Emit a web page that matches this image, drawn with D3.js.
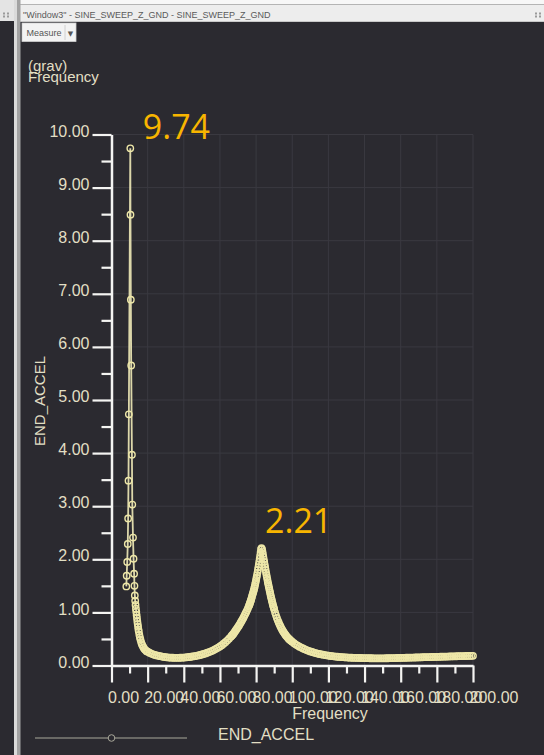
<!DOCTYPE html>
<html>
<head>
<meta charset="utf-8">
<script src="https://cdn.jsdelivr.net/npm/d3@7"></script>
<style>
  html, body { margin: 0; padding: 0; background: #2b2a30; }
  svg { display: block; }
</style>
</head>
<body>
<svg id="chart" width="544" height="755"></svg>
<script>
// Sine sweep response, END_ACCEL (grav) against Frequency (Hz)
const frequency = [
  8.2, 8.4, 8.7, 9.0, 9.2, 9.4, 9.6, 10.4, 10.5, 10.7, 10.9, 11.3, 11.5, 11.9, 12.2, 12.5, 12.7,
  12.9, 13.1, 13.3, 13.5, 13.7, 13.9, 14.1, 14.3, 14.5, 14.7, 14.9, 15.1, 15.4, 15.7, 16.0,
  16.4, 16.8, 17.2, 17.7, 18.2, 18.8, 19.4,
  20, 21, 22, 23, 24, 25, 26, 27, 28, 29, 30, 31, 32, 33, 34, 35, 36, 37, 38, 39, 40,
  41, 42, 43, 44, 45, 46, 47, 48, 49, 50, 51, 52, 53, 54, 55, 56, 57, 58, 59, 60,
  61, 62, 63, 64, 65, 66,
  66.5, 67, 67.5, 68, 68.5, 69, 69.5, 70, 70.5, 71, 71.5, 72, 72.5, 73, 73.5, 74, 74.5, 75, 75.5, 76,
  76.25, 76.5, 76.75, 77, 77.25, 77.5, 77.75, 78, 78.25, 78.5, 78.75, 79, 79.25, 79.5, 79.75, 80,
  80.25, 80.5, 80.75, 81, 81.25, 81.5, 81.75, 82, 82.25, 82.5, 82.75, 83, 83.25, 83.5, 83.75, 84,
  84.25, 84.5, 84.75, 85, 85.25, 85.5, 85.75, 86, 86.25, 86.5, 86.75, 87, 87.25, 87.5, 87.75, 88,
  88.25, 88.5, 88.75, 89, 89.25, 89.5, 89.75, 90,
  90.5, 91, 91.5, 92, 92.5, 93, 93.5, 94, 94.5, 95, 95.5, 96, 96.5, 97, 97.5, 98, 98.5, 99, 99.5, 100,
  101, 102, 103, 104, 105, 106, 107, 108, 109, 110, 111, 112, 113, 114, 115, 116, 117, 118, 119, 120,
  121, 122, 123, 124, 125, 126, 127, 128, 129, 130, 131, 132, 133, 134, 135, 136, 137, 138, 139, 140,
  141, 142, 143, 144, 145, 146, 147, 148, 149, 150, 151, 152, 153, 154, 155, 156, 157, 158, 159, 160,
  161, 162, 163, 164, 165, 166, 167, 168, 169, 170, 171, 172, 173, 174, 175, 176, 177, 178, 179, 180,
  181, 182, 183, 184, 185, 186, 187, 188, 189, 190, 191, 192, 193, 194, 195, 196, 197, 198, 199, 200
];

const endAccel = [
  1.49, 1.69, 1.95, 2.29, 2.77, 3.48, 4.73, 9.74, 8.49, 6.89, 5.65, 3.97, 3.03, 2.41, 2.01, 1.73, 1.50,
  1.32, 1.22, 1.14, 1.07, 1.01, 0.95, 0.89, 0.83, 0.78, 0.73, 0.68, 0.64, 0.58, 0.53, 0.49,
  0.44, 0.40, 0.37, 0.34, 0.31, 0.29, 0.27,
  0.26, 0.24, 0.225, 0.21, 0.20, 0.19, 0.182, 0.175, 0.168, 0.162, 0.157, 0.153, 0.15, 0.148, 0.146, 0.145, 0.145, 0.145, 0.146, 0.148, 0.15,
  0.153, 0.156, 0.16, 0.165, 0.17, 0.176, 0.183, 0.19, 0.198, 0.207, 0.217, 0.228, 0.24, 0.253, 0.267, 0.282, 0.30, 0.318, 0.338, 0.36,
  0.383, 0.41, 0.44, 0.47, 0.505, 0.54,
  0.56, 0.58, 0.60, 0.625, 0.65, 0.675, 0.70, 0.725, 0.75, 0.78, 0.81, 0.84, 0.87, 0.90, 0.935, 0.97, 1.005, 1.04, 1.08, 1.12,
  1.14, 1.165, 1.19, 1.215, 1.24, 1.27, 1.30, 1.33, 1.36, 1.39, 1.42, 1.455, 1.49, 1.53, 1.57, 1.61,
  1.655, 1.70, 1.75, 1.80, 1.85, 1.90, 1.955, 2.01, 2.07, 2.13, 2.19, 2.21, 2.19, 2.15, 2.10, 2.05,
  2.00, 1.95, 1.90, 1.85, 1.80, 1.75, 1.705, 1.66, 1.615, 1.57, 1.53, 1.49, 1.45, 1.41, 1.37, 1.33,
  1.29, 1.255, 1.22, 1.185, 1.15, 1.12, 1.09, 1.06,
  1.00, 0.945, 0.895, 0.85, 0.81, 0.77, 0.735, 0.70, 0.67, 0.64, 0.615, 0.59, 0.565, 0.545, 0.525, 0.505, 0.49, 0.475, 0.46, 0.445,
  0.42, 0.395, 0.375, 0.355, 0.337, 0.32, 0.305, 0.29, 0.277, 0.265, 0.254, 0.244, 0.234, 0.225, 0.217, 0.21, 0.203, 0.197, 0.191, 0.186,
  0.181, 0.176, 0.172, 0.168, 0.165, 0.162, 0.159, 0.156, 0.154, 0.152, 0.15, 0.148, 0.146, 0.145, 0.144, 0.143, 0.142, 0.141, 0.14, 0.139,
  0.138, 0.138, 0.137, 0.137, 0.136, 0.136, 0.136, 0.136, 0.136, 0.136, 0.136, 0.137, 0.137, 0.138, 0.138, 0.139, 0.14, 0.141, 0.142, 0.143,
  0.144, 0.145, 0.146, 0.147, 0.148, 0.149, 0.15, 0.151, 0.152, 0.153, 0.154, 0.155, 0.156, 0.157, 0.158, 0.159, 0.16, 0.161, 0.162, 0.163,
  0.164, 0.165, 0.166, 0.167, 0.168, 0.169, 0.17, 0.171, 0.172, 0.173, 0.174, 0.175, 0.176, 0.177, 0.178, 0.179, 0.18, 0.181, 0.182, 0.183
];

const xTicks = [0, 20, 40, 60, 80, 100, 120, 140, 160, 180, 200];
const xMinorTicks = [10, 30, 50, 70, 90, 110, 130, 150, 170, 190];
const yTicks = [0, 1, 2, 3, 4, 5, 6, 7, 8, 9, 10];
const yMinorTicks = [0.5, 1.5, 2.5, 3.5, 4.5, 5.5, 6.5, 7.5, 8.5, 9.5];

const windowTitle = '"Window3" - SINE_SWEEP_Z_GND - SINE_SWEEP_Z_GND';
const seriesName = "END_ACCEL";
const xTitle = "Frequency";
const unitLabel = "(grav)";

const points = frequency.map((f, i) => ({ f, v: endAccel[i] }));

const BG = "#2b2a30";
const TEXT = "#e2dfc4";
const AXIS = "#f4f4f2";
const CURVE = "#eee7a8";
const fmt = d3.format(".2f");

const svg = d3.select("#chart");

// ---- application frame ----
svg.append("rect").attr("width", 544).attr("height", 755).attr("fill", BG);
svg.append("rect").attr("x", 0).attr("y", 0).attr("width", 544).attr("height", 5).attr("fill", "#f7f7f7");
svg.append("rect").attr("x", 0).attr("y", 0).attr("width", 14).attr("height", 21).attr("fill", "#e4e4e4");
svg.append("rect").attr("x", 20).attr("y", 4).attr("width", 524).attr("height", 18).attr("fill", "#ededed");
svg.append("line").attr("x1", 20).attr("x2", 544).attr("y1", 4.5).attr("y2", 4.5).attr("stroke", "#b4b4b4");
svg.append("line").attr("x1", 20).attr("x2", 544).attr("y1", 21.5).attr("y2", 21.5).attr("stroke", "#c8c8c8");
svg.append("rect").attr("x", 14).attr("y", 0).attr("width", 3).attr("height", 755).attr("fill", "#dadada");
svg.append("rect").attr("x", 17).attr("y", 0).attr("width", 3.5).attr("height", 755).attr("fill", "#a2a2a2");

// grip icons
function grip(cx, cy) {
  [[-2, -1.5], [2, -1.5], [-2, 1.5], [2, 1.5]].forEach(([dx, dy]) => {
    svg.append("rect").attr("x", cx + dx - 1).attr("y", cy + dy - 1)
      .attr("width", 2).attr("height", 2).attr("fill", "#9a9a9a");
  });
}
grip(6, 15);
grip(538, 15);

svg.append("text").attr("x", 23).attr("y", 17.5)
  .attr("font-family", "Liberation Sans, Arial, sans-serif").attr("font-size", 9)
  .attr("fill", "#5a5a5a").text(windowTitle);

// Measure drop-down
svg.append("rect").attr("x", 22).attr("y", 23).attr("width", 54).attr("height", 18.5)
  .attr("fill", "#f3f3f3").attr("stroke", "#cfcfcf").attr("stroke-width", 0.8);
svg.append("line").attr("x1", 65).attr("x2", 65).attr("y1", 25).attr("y2", 40)
  .attr("stroke", "#d0d0d0");
svg.append("text").attr("x", 26.5).attr("y", 36)
  .attr("font-family", "Liberation Sans, Arial, sans-serif").attr("font-size", 9)
  .attr("fill", "#555").text("Measure");
svg.append("text").attr("x", 70.5).attr("y", 35.5).attr("text-anchor", "middle")
  .attr("font-family", "DejaVu Sans, sans-serif").attr("font-size", 7)
  .attr("fill", "#555").text("\u25BC");

// ---- plot ----
const x = d3.scaleLinear().domain([0, 200]).range([111.5, 473]);
const y = d3.scaleLinear().domain([0, 10]).range([665.5, 134.5]);

const plot = svg.append("g");

// faint grid
plot.append("g").selectAll("line").data(xTicks.slice(1)).join("line")
  .attr("x1", d => x(d)).attr("x2", d => x(d))
  .attr("y1", y(0)).attr("y2", y(10))
  .attr("stroke", "#3a3940").attr("stroke-width", 1);
plot.append("g").selectAll("line").data(yTicks.slice(1)).join("line")
  .attr("x1", x(0)).attr("x2", x(200))
  .attr("y1", d => y(d)).attr("y2", d => y(d))
  .attr("stroke", "#3a3940").attr("stroke-width", 1);

function styleAxis(g) {
  g.select(".domain").attr("stroke", AXIS).attr("stroke-width", 2.5);
  g.selectAll(".tick line").attr("stroke", AXIS).attr("stroke-width", 2.2);
  g.selectAll(".tick text").attr("fill", TEXT)
    .attr("font-family", "Liberation Sans, Arial, sans-serif").attr("font-size", 16);
}

// minor ticks
plot.append("g").attr("transform", `translate(${x(0)},0)`)
  .call(d3.axisLeft(y).tickValues(yMinorTicks).tickSize(10).tickSizeOuter(0).tickFormat(""))
  .call(styleAxis).call(g => g.select(".domain").remove());
plot.append("g").attr("transform", `translate(0,${y(0)})`)
  .call(d3.axisBottom(x).tickValues(xMinorTicks).tickSize(8).tickSizeOuter(0).tickFormat(""))
  .call(styleAxis).call(g => g.select(".domain").remove());

// major axes
plot.append("g").attr("transform", `translate(${x(0)},0)`)
  .call(d3.axisLeft(y).tickValues(yTicks).tickSize(19).tickSizeOuter(0).tickPadding(3).tickFormat(fmt))
  .call(styleAxis)
  .call(g => g.selectAll(".tick text").attr("dy", "0.1em"));

plot.append("g").attr("transform", `translate(0,${y(0)})`)
  .call(d3.axisBottom(x).tickValues(xTicks).tickSize(17).tickSizeOuter(0).tickPadding(9).tickFormat(fmt))
  .call(styleAxis)
  .call(g => g.selectAll(".tick text").attr("text-anchor", "start").attr("x", -4));

// axis titles
svg.append("text").attr("x", 330).attr("y", 719).attr("text-anchor", "middle")
  .attr("font-family", "Liberation Sans, Arial, sans-serif").attr("font-size", 16)
  .attr("fill", TEXT).text(xTitle);
svg.append("text").attr("transform", "translate(45,401) rotate(-90)").attr("text-anchor", "middle")
  .attr("font-family", "Liberation Sans, Arial, sans-serif").attr("font-size", 15)
  .attr("fill", TEXT).text(seriesName);
svg.append("text").attr("x", 28).attr("y", 70.5)
  .attr("font-family", "Liberation Sans, Arial, sans-serif").attr("font-size", 15)
  .attr("fill", TEXT).text(unitLabel);
svg.append("text").attr("x", 28).attr("y", 81.5)
  .attr("font-family", "Liberation Sans, Arial, sans-serif").attr("font-size", 15)
  .attr("fill", TEXT).text(xTitle);

// curve: connecting line plus a ring at every sample
const line = d3.line().x(d => x(d.f)).y(d => y(d.v));
plot.append("path").datum(points).attr("d", line)
  .attr("fill", "none").attr("stroke", "#dcd7aa").attr("stroke-width", 1.8);
plot.append("g").selectAll("circle").data(points).join("circle")
  .attr("cx", d => x(d.f)).attr("cy", d => y(d.v)).attr("r", 3.2)
  .attr("fill", "none").attr("stroke", CURVE).attr("stroke-width", 1.4);

// peak annotations
const lowBand = points.filter(d => d.f < 40);
const highBand = points.filter(d => d.f >= 40);
const peaks = [
  { p: lowBand[d3.maxIndex(lowBand, d => d.v)], dx: 12.5, dy: -9 },
  { p: highBand[d3.maxIndex(highBand, d => d.v)], dx: 3.5, dy: -15 }
];
svg.append("g").selectAll("text").data(peaks).join("text")
  .attr("x", d => x(d.p.f) + d.dx).attr("y", d => y(d.p.v) + d.dy)
  .attr("font-family", "Open Sans, Noto Sans, sans-serif").attr("font-size", 34)
  .attr("fill", "#f8b500").text(d => fmt(d.p.v));

// legend
svg.append("line").attr("x1", 35).attr("x2", 187).attr("y1", 738).attr("y2", 738)
  .attr("stroke", "#a9a89a").attr("stroke-width", 1);
svg.append("circle").attr("cx", 111.5).attr("cy", 738).attr("r", 3.3)
  .attr("fill", BG).attr("stroke", "#a9a89a").attr("stroke-width", 1);
svg.append("text").attr("x", 218).attr("y", 740)
  .attr("font-family", "Liberation Sans, Arial, sans-serif").attr("font-size", 16)
  .attr("fill", TEXT).text(seriesName);
</script>
</body>
</html>
